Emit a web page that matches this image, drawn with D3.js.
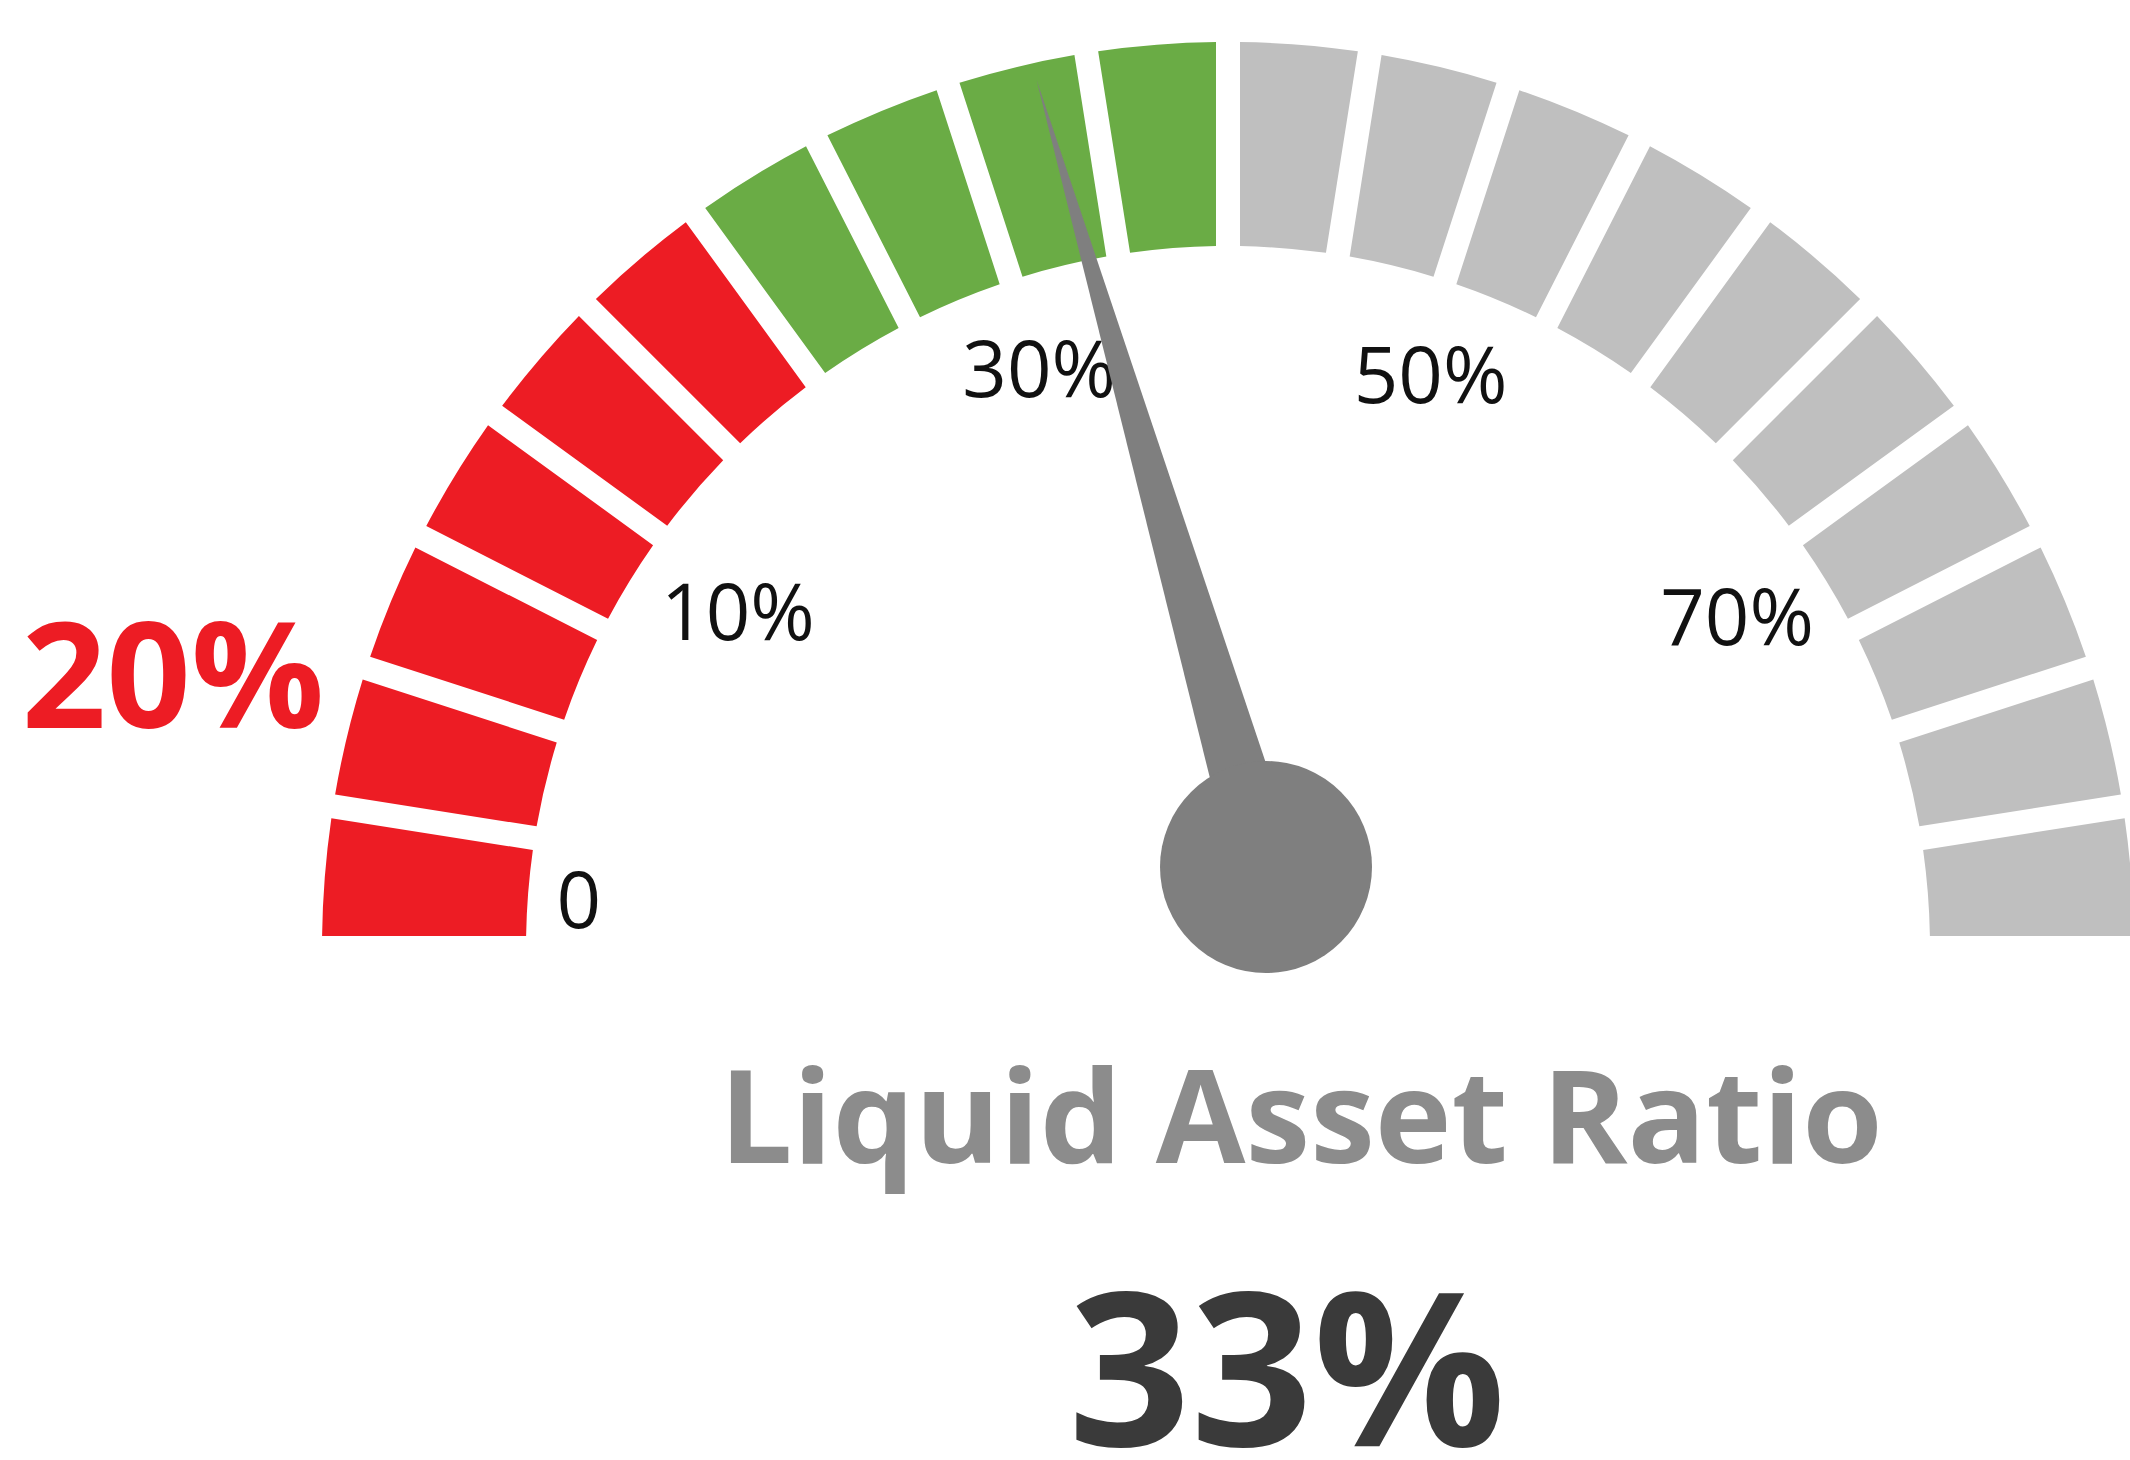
<!DOCTYPE html>
<html>
<head>
<meta charset="utf-8">
<script src="https://cdn.jsdelivr.net/npm/d3@7"></script>
<style>
  html, body { margin: 0; padding: 0; background: #ffffff; }
  svg { display: block; }
  text { font-family: "Open Sans", "Noto Sans", sans-serif; }
</style>
</head>
<body>
<div id="chart"></div>
<script>
// gauge bands (each segment = one step of the dial)
var bandNames    = ["Below target", "Target", "Above target"];
var bandSegments = [6, 4, 10];
var bandColors   = ["#ed1c24", "#6aac45", "#bfbfbf"];

// dial tick labels
var tickValues = [0, 10, 30, 50, 70];
var tickLabels = ["0", "10%", "30%", "50%", "70%"];

// values shown
var currentValue = 33;
var minimumLabel = "20%";
var titleText    = "Liquid Asset Ratio";
var valueLabel   = "33%";

var width  = 2130;
var height = 1460;

var cx = 1228, cy = 948;          // gauge centre
var innerR = 702, outerR = 906;
var gapWidth = 24;

var svg = d3.select("#chart").append("svg")
    .attr("width", width)
    .attr("height", height);

// angle (degrees, measured from the left horizontal) for a value on the dial
var angleScale  = d3.scaleLinear().domain([0, 10, 70]).range([4.2, 34.4, 147.0]);
var labelRadius = d3.scaleLinear().domain([0, 10, 30, 70]).range([651, 594, 609, 607]);

function polar(deg, r) {
    var a = deg * Math.PI / 180;
    return [cx - r * Math.cos(a), cy - r * Math.sin(a)];
}

// ---- segments
var segments = [];
bandSegments.forEach(function(n, b) {
    for (var k = 0; k < n; k++) segments.push({ band: bandNames[b], color: bandColors[b], value: 1 });
});

var padR = 700;
var pie = d3.pie()
    .sort(null)
    .value(function(d) { return d.value; })
    .startAngle(-Math.PI / 2)
    .endAngle(Math.PI / 2)
    .padAngle(gapWidth / padR);

var arc = d3.arc()
    .innerRadius(innerR)
    .outerRadius(outerR)
    .padRadius(padR);

var g = svg.append("g").attr("transform", "translate(" + cx + "," + cy + ")");

g.selectAll("path.seg").data(pie(segments)).enter().append("path")
    .attr("class", "seg")
    .attr("d", arc)
    .attr("fill", function(d) { return d.data.color; });

// ---- tick labels
svg.selectAll("text.tick").data(tickValues).enter().append("text")
    .attr("class", "tick")
    .attr("x", function(d) { return polar(angleScale(d), labelRadius(d))[0]; })
    .attr("y", function(d) { return polar(angleScale(d), labelRadius(d))[1]; })
    .attr("dy", "0.36em")
    .attr("text-anchor", "middle")
    .attr("font-size", 78)
    .attr("fill", "#111111")
    .text(function(d, i) { return tickLabels[i]; });

// ---- needle
var pivot = [cx + 38, cy - 81];
var tip   = polar(angleScale(currentValue), 889);
var ux = tip[0] - pivot[0], uy = tip[1] - pivot[1];
var len = Math.sqrt(ux * ux + uy * uy);
var nx = -uy / len, ny = ux / len;
var halfBase = 33;

var needlePts = [
    [pivot[0] + nx * halfBase, pivot[1] + ny * halfBase],
    tip,
    [pivot[0] - nx * halfBase, pivot[1] - ny * halfBase]
];

svg.append("path")
    .attr("d", d3.line()(needlePts) + "Z")
    .attr("fill", "#7f7f7f");

svg.append("circle")
    .attr("cx", pivot[0])
    .attr("cy", pivot[1])
    .attr("r", 106)
    .attr("fill", "#7f7f7f");

// ---- texts
svg.append("text")
    .attr("x", 173)
    .attr("y", 728)
    .attr("text-anchor", "middle")
    .attr("font-size", 148)
    .attr("font-weight", "bold")
    .attr("fill", "#ed1c24")
    .text(minimumLabel);

svg.append("text")
    .attr("x", 1301)
    .attr("y", 1163)
    .attr("text-anchor", "middle")
    .attr("font-size", 130)
    .attr("font-weight", "bold")
    .attr("fill", "#8c8c8c")
    .text(titleText);

svg.append("text")
    .attr("x", 1287)
    .attr("y", 1446)
    .attr("text-anchor", "middle")
    .attr("font-size", 214)
    .attr("font-weight", "bold")
    .attr("fill", "#3a3a3a")
    .text(valueLabel);
</script>
</body>
</html>
